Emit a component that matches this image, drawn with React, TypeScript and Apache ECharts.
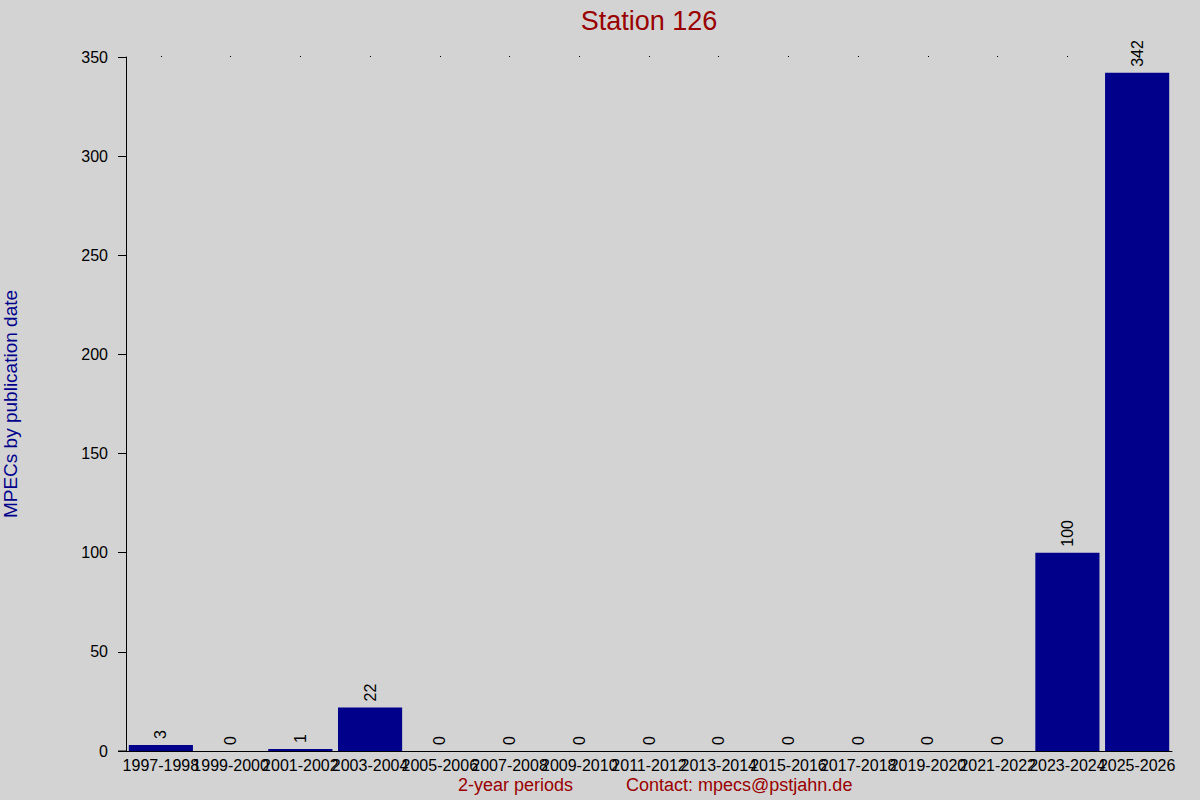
import * as echarts from "echarts";
import { useEffect, useRef } from "react";

const periods = [
  "1997-1998", "1999-2000", "2001-2002", "2003-2004", "2005-2006",
  "2007-2008", "2009-2010", "2011-2012", "2013-2014", "2015-2016",
  "2017-2018", "2019-2020", "2021-2022", "2023-2024", "2025-2026",
];
const mpecs = [3, 0, 1, 22, 0, 0, 0, 0, 0, 0, 0, 0, 0, 100, 342];
const yTicks = [0, 50, 100, 150, 200, 250, 300, 350];

const BG = "#d3d3d3";
const BAR = "#00008b";
const RED = "#990000";
const FONT = "Liberation Sans, Arial, sans-serif";

export default function App() {
  const ref = useRef<HTMLDivElement>(null);

  useEffect(() => {
    document.body.style.margin = "0";
    const el = ref.current;
    if (!el) return;
    const chart = echarts.init(el, undefined, { renderer: "svg" });
    chart.setOption({
      animation: false,
      backgroundColor: BG,
      textStyle: { fontFamily: FONT },
      title: {
        text: "Station 126",
        left: 644,
        top: 2,
        textAlign: "center",
        textStyle: { color: RED, fontSize: 27, fontWeight: "normal", fontFamily: FONT },
      },
      grid: { left: 126, right: 28, top: 57, bottom: 49, containLabel: false, outerBoundsMode: "none" },
      xAxis: [
        {
          type: "category",
          data: periods,
          axisLine: { lineStyle: { color: "#000", width: 1 } },
          axisTick: { show: false },
          axisLabel: { color: "#000", fontSize: 16, margin: 6, interval: 0, fontFamily: FONT },
        },
        {
          type: "category",
          data: periods,
          position: "top",
          axisLine: { show: false },
          axisTick: { show: true, interval: 0, alignWithLabel: true, length: 1, lineStyle: { color: "#000" } },
          axisLabel: { show: false, interval: 0 },
        },
      ],
      yAxis: {
        type: "value",
        min: yTicks[0],
        max: yTicks[yTicks.length - 1],
        interval: 50,
        name: "MPECs by publication date",
        nameLocation: "middle",
        nameGap: 106,
        nameTextStyle: { color: BAR, fontSize: 19, fontFamily: FONT },
        axisLine: { show: true, lineStyle: { color: "#000", width: 1 } },
        axisTick: { show: true, length: 8, lineStyle: { color: "#000" } },
        axisLabel: { color: "#000", fontSize: 16, margin: 18, fontFamily: FONT },
        splitLine: { show: false },
      },
      series: [
        {
          type: "bar",
          data: mpecs,
          barCategoryGap: "8%",
          itemStyle: { color: BAR },
          label: {
            show: true,
            position: "top",
            rotate: 90,
            align: "left",
            verticalAlign: "middle",
            distance: 6,
            color: "#000",
            fontSize: 16,
            fontFamily: FONT,
          },
        },
      ],
      graphic: [
        // short stub of the baseline left of the y axis
        { type: "line", shape: { x1: 118, y1: 751, x2: 126, y2: 751 }, style: { stroke: "#000", lineWidth: 1 } },
        {
          type: "text",
          left: 458,
          top: 776,
          style: { text: "2-year periods", fill: RED, fontSize: 18, fontFamily: FONT },
        },
        {
          type: "text",
          left: 626,
          top: 776,
          style: { text: "Contact: mpecs@pstjahn.de", fill: RED, fontSize: 18, fontFamily: FONT },
        },
      ],
    });
    return () => chart.dispose();
  }, []);

  return <div ref={ref} style={{ width: 1200, height: 800 }} />;
}
